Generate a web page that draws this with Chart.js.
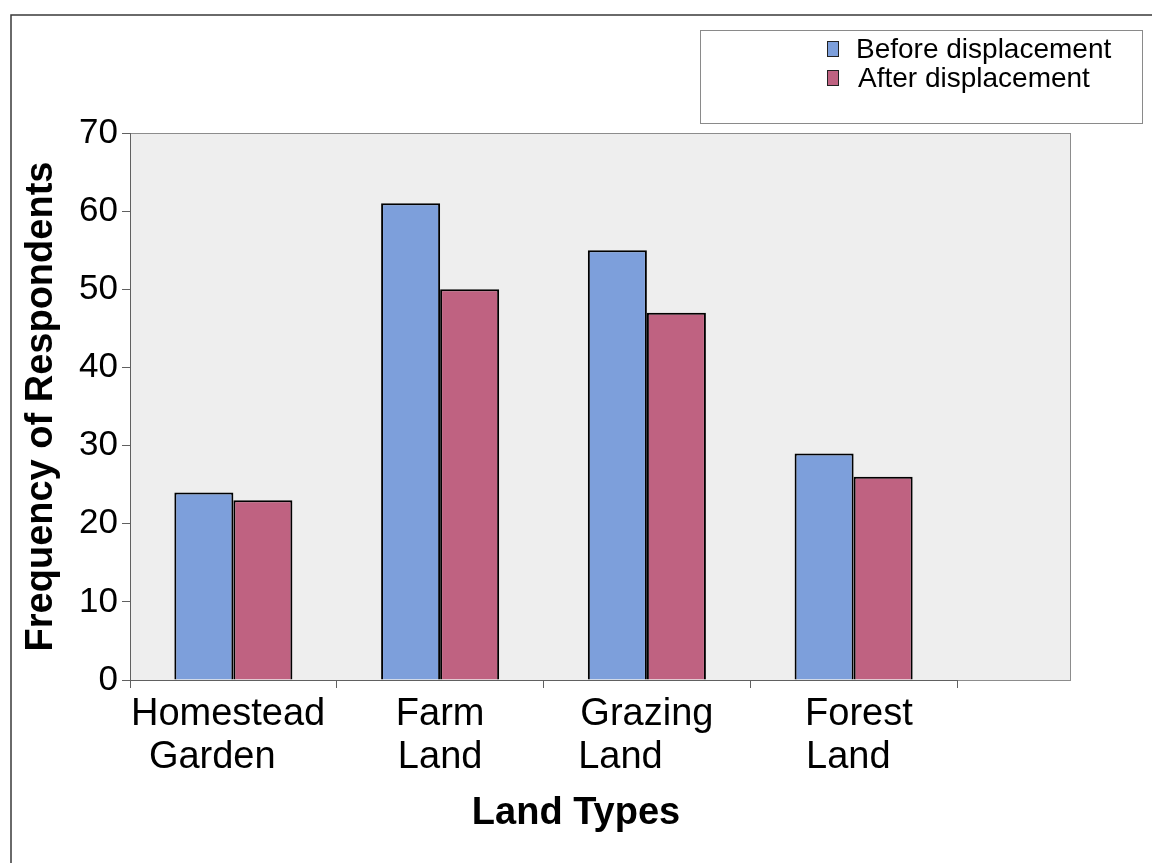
<!DOCTYPE html>
<html>
<head>
<meta charset="utf-8">
<title>Land Types</title>
<script src="https://cdn.jsdelivr.net/npm/chart.js@4.4.1/dist/chart.umd.min.js"></script>
<style>
  html, body { margin: 0; padding: 0; background: #ffffff; }
  #wrap { width: 1152px; height: 863px; position: relative; }
</style>
</head>
<body>
<div id="wrap"><canvas id="chart" width="1152" height="863"></canvas></div>
<script>
// Category labels (one entry per line of the wrapped label)
const categories = [
  ['Homestead ', 'Garden    '],
  ['Farm', 'Land'],
  ['Grazing', 'Land     '],
  [' Forest', 'Land ']
];
const seriesNames = ['Before displacement', 'After displacement'];
const beforeValues = [24, 61, 55, 29];
const afterValues = [23, 50, 47, 26];
const yTicks = [0, 10, 20, 30, 40, 50, 60, 70];

const FONT = '"Liberation Sans", Arial, Helvetica, sans-serif';
const BLUE = '#7d9fdb';
const RED = '#bf6281';

// Grey plot panel (extends a little past the last category) and the page frame
const panelPlugin = {
  id: 'panel',
  beforeDraw(chart) {
    const { ctx, chartArea: a } = chart;
    ctx.save();
    ctx.fillStyle = '#ffffff';
    ctx.fillRect(0, 0, chart.width, chart.height);
    // page frame
    ctx.strokeStyle = '#3a3a3a';
    ctx.lineWidth = 1.5;
    ctx.beginPath();
    ctx.moveTo(11, chart.height);
    ctx.lineTo(11, 15);
    ctx.lineTo(chart.width, 15);
    ctx.stroke();
    // plot panel
    const right = a.right + 113;
    ctx.fillStyle = '#eeeeee';
    ctx.fillRect(a.left, a.top, right - a.left, a.bottom - a.top);
    ctx.strokeStyle = '#8c8c8c';
    ctx.lineWidth = 1;
    ctx.strokeRect(a.left + 0.5, a.top + 0.5, right - a.left, a.bottom - a.top);
    ctx.restore();
  }
};

// Boxed legend in the upper right
const boxLegendPlugin = {
  id: 'boxLegend',
  afterDraw(chart) {
    const ctx = chart.ctx;
    ctx.save();
    ctx.strokeStyle = '#8a8a8a';
    ctx.lineWidth = 1;
    ctx.strokeRect(700.5, 30.5, 442, 93);
    ctx.font = '28px ' + FONT;
    ctx.textBaseline = 'alphabetic';
    ctx.textAlign = 'left';
    chart.data.datasets.forEach((ds, i) => {
      const base = 58 + i * 29;
      ctx.fillStyle = ds.backgroundColor;
      ctx.fillRect(827, base - 17, 12, 16);
      ctx.strokeStyle = '#222222';
      ctx.strokeRect(827.5, base - 16.5, 11, 15);
      ctx.fillStyle = '#000000';
      ctx.fillText(ds.label, 856 + i * 2, base);
    });
    ctx.restore();
  }
};

new Chart(document.getElementById('chart'), {
  type: 'bar',
  data: {
    labels: categories,
    datasets: [
      {
        label: seriesNames[0],
        data: beforeValues,
        backgroundColor: BLUE,
        borderColor: '#000000',
        borderWidth: 2,
        categoryPercentage: 0.571,
        barPercentage: 1.0
      },
      {
        label: seriesNames[1],
        data: afterValues,
        backgroundColor: RED,
        borderColor: '#000000',
        borderWidth: 2,
        categoryPercentage: 0.571,
        barPercentage: 1.0
      }
    ]
  },
  options: {
    responsive: false,
    animation: false,
    devicePixelRatio: 1,
    layout: { padding: { top: 133, left: 0, right: 0, bottom: 0 } },
    plugins: {
      legend: { display: false },
      tooltip: { enabled: false },
      title: {
        display: true,
        position: 'bottom',
        text: 'Land Types',
        color: '#000000',
        font: { family: FONT, size: 38, weight: 'bold', lineHeight: 1.2 },
        padding: { top: 0, bottom: 27 }
      }
    },
    scales: {
      x: {
        ticks: {
          color: '#000000',
          font: { family: FONT, size: 38, lineHeight: 1.13 },
          padding: 5,
          maxRotation: 0,
          autoSkip: false
        },
        grid: { drawOnChartArea: false, offset: true, tickLength: 8, color: '#606060', lineWidth: 1 },
        border: { color: '#606060', width: 1 },
        afterFit(scale) { scale.height = 110.4; }
      },
      y: {
        min: 0,
        max: 70,
        afterBuildTicks(scale) { scale.ticks = yTicks.map(v => ({ value: v })); },
        ticks: {
          color: '#000000',
          font: { family: FONT, size: 35 },
          padding: 4
        },
        grid: { drawOnChartArea: false, tickLength: 8, color: '#606060', lineWidth: 1 },
        border: { color: '#606060', width: 1 },
        title: {
          display: true,
          text: 'Frequency of Respondents',
          color: '#000000',
          font: { family: FONT, size: 38, weight: 'bold', lineHeight: 1.2 },
          padding: { top: 19, bottom: 0 }
        },
        afterFit(scale) { scale.width = 130; }
      },
      spacer: {
        type: 'linear',
        position: 'right',
        display: true,
        ticks: { display: false },
        grid: { display: false },
        border: { display: false },
        afterFit(scale) { scale.width = 195; }
      }
    }
  },
  plugins: [panelPlugin, boxLegendPlugin]
});
</script>
</body>
</html>
